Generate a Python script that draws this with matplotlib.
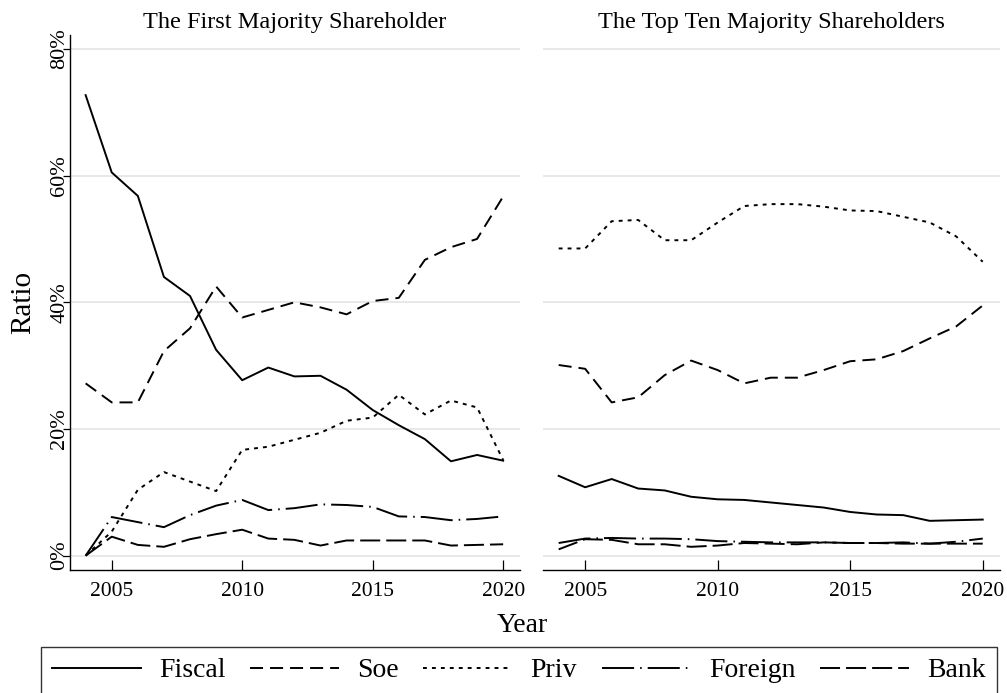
import matplotlib.pyplot as plt
import numpy as np

plt.rcParams["font.family"] = ["Liberation Serif", "DejaVu Serif"]

years = np.arange(2004, 2021)

# First majority shareholder, share by type (%)
first_fiscal = [72.7, 60.5, 56.8, 44.0, 41.0, 32.5, 27.7, 29.7, 28.3, 28.4, 26.2, 23.0, 20.6, 18.4, 14.9, 15.9, 15.0]
first_soe = [27.2, 24.2, 24.2, 32.3, 35.9, 42.5, 37.6, 38.8, 40.0, 39.2, 38.1, 40.2, 40.7, 46.7, 48.7, 50.0, 56.7]
first_priv = [0.0, 3.8, 10.4, 13.2, 11.7, 10.2, 16.7, 17.2, 18.3, 19.4, 21.3, 21.8, 25.4, 22.3, 24.5, 23.4, 15.1]
first_foreign = [0.0, 6.1, 5.3, 4.5, 6.4, 7.9, 8.8, 7.2, 7.5, 8.1, 8.0, 7.7, 6.2, 6.1, 5.6, 5.8, 6.2]
first_bank = [0.0, 3.0, 1.7, 1.4, 2.6, 3.4, 4.1, 2.7, 2.5, 1.6, 2.4, 2.4, 2.4, 2.4, 1.6, 1.7, 1.8]

# Top ten majority shareholders
top_fiscal = [12.6, 10.8, 12.1, 10.6, 10.3, 9.3, 8.9, 8.8, 8.4, 8.0, 7.6, 6.9, 6.5, 6.4, 5.5, 5.6, 5.7]
top_soe = [30.1, 29.5, 24.2, 25.0, 28.5, 30.8, 29.3, 27.2, 28.1, 28.1, 29.3, 30.7, 31.0, 32.3, 34.3, 36.2, 39.5]
top_priv = [48.5, 48.5, 52.8, 53.0, 49.8, 49.8, 52.6, 55.2, 55.5, 55.5, 55.1, 54.5, 54.4, 53.5, 52.6, 50.4, 46.4]
top_foreign = [2.0, 2.7, 2.8, 2.7, 2.7, 2.6, 2.3, 2.2, 2.1, 2.1, 2.1, 2.0, 2.0, 2.1, 1.9, 2.2, 2.7]
top_bank = [1.0, 2.6, 2.5, 1.8, 1.8, 1.4, 1.6, 2.0, 1.9, 1.8, 2.1, 2.0, 2.0, 1.9, 1.9, 1.9, 1.9]

labels = ["Fiscal", "Soe", "Priv", "Foreign", "Bank"]
# stata-like patterns: solid, dash, dot, longdash-dot, longdash
styles = [
    "-",
    (0, (6.7, 3.6)),
    (0, (2.0, 2.6)),
    (0, (16.5, 3.1, 0.8, 3.1)),
    (0, (10.3, 3.1)),
]
LW = 1.4

fig = plt.figure(figsize=(10.07, 6.93), dpi=100)
ax1 = fig.add_axes([0.0695, 0.1775, 0.447, 0.772])
ax2 = fig.add_axes([0.539, 0.1775, 0.454, 0.772])

panels = [
    (ax1, "The First Majority Shareholder",
     [first_fiscal, first_soe, first_priv, first_foreign, first_bank]),
    (ax2, "The Top Ten Majority Shareholders",
     [top_fiscal, top_soe, top_priv, top_foreign, top_bank]),
]

handles = []
for ax, title, series in panels:
    for vals, lab, ls in zip(series, labels, styles):
        (ln,) = ax.plot(years, vals, color="black", lw=LW, linestyle=ls, label=lab)
        if ax is ax1:
            handles.append(ln)
    ax.set_xlim(2003.4, 2020.65)
    ax.set_ylim(-2.26, 82.2)
    ax.set_yticks([0, 20, 40, 60, 80])
    ax.yaxis.grid(True, color="#e6e6e6", lw=1.3)
    ax.set_axisbelow(True)
    ax.set_xticks([2005, 2010, 2015, 2020])
    ax.tick_params(axis="x", direction="in", length=7, width=0.9, labelsize=15.5, pad=8.5)
    for s in ["top", "right"]:
        ax.spines[s].set_visible(False)
    ax.spines["bottom"].set_linewidth(1.0)
    ax.set_title(title, fontsize=17.5, pad=5)

ax1.set_yticklabels(["0%", "20%", "40%", "60%", "80%"], rotation=90, va="center")
ax1.tick_params(axis="y", direction="out", length=5, width=0.9, labelsize=16, pad=-4.5)
ax1.spines["left"].set_linewidth(1.0)
ax1.set_ylabel("Ratio", fontsize=21, labelpad=10)

ax2.spines["left"].set_visible(False)
ax2.tick_params(axis="y", left=False, labelleft=False)

fig.text(0.5185, 0.098, "Year", ha="center", va="center", fontsize=20)

leg = fig.legend(handles, labels, loc="upper left", ncol=5,
                 bbox_to_anchor=(0.0404, 0.0665, 0.9494, 0.0),
                 mode="expand", fontsize=20, handlelength=3.2,
                 handletextpad=0.65, columnspacing=1.0, frameon=True,
                 fancybox=False, borderaxespad=0, borderpad=0.4)
leg.get_frame().set_edgecolor("black")
leg.get_frame().set_linewidth(1.0)

fig.savefig("out.png", dpi=100)
